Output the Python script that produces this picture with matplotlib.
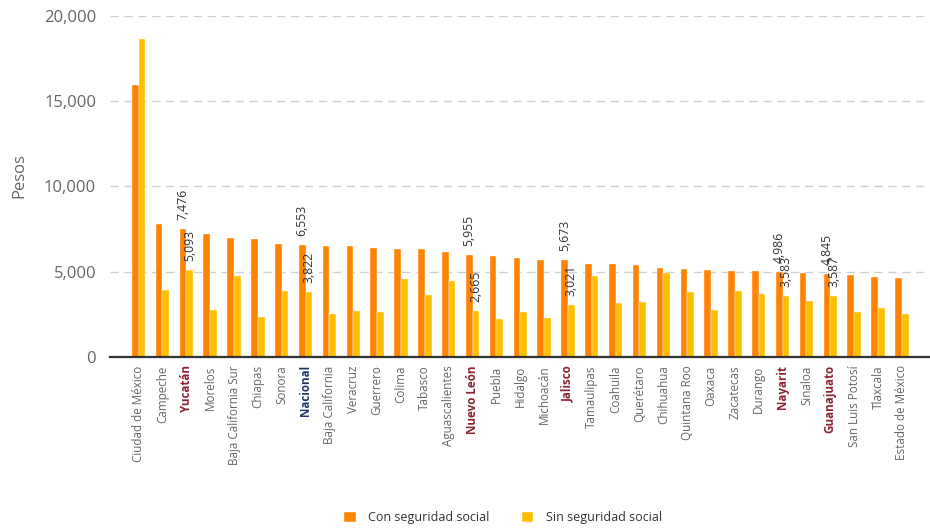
import matplotlib
matplotlib.use("Agg")
import matplotlib.pyplot as plt
import numpy as np

plt.rcParams['font.family'] = ['Open Sans', 'DejaVu Sans']

estados = ["Ciudad de México", "Campeche", "Yucatán", "Morelos", "Baja California Sur",
           "Chiapas", "Sonora", "Nacional", "Baja California", "Veracruz", "Guerrero",
           "Colima", "Tabasco", "Aguascalientes", "Nuevo León", "Puebla", "Hidalgo",
           "Michoacán", "Jalisco", "Tamaulipas", "Coahuila", "Querétaro", "Chihuahua",
           "Quintana Roo", "Oaxaca", "Zacatecas", "Durango", "Nayarit", "Sinaloa",
           "Guanajuato", "San Luis Potosí", "Tlaxcala", "Estado de México"]

con_seguridad = [15920, 7767, 7476, 7183, 6985, 6891, 6617, 6553, 6514, 6495, 6359,
                 6340, 6321, 6127, 5955, 5914, 5817, 5701, 5673, 5470, 5440, 5391,
                 5217, 5178, 5081, 5062, 5062, 4986, 4946, 4845, 4810, 4675, 4655]

sin_seguridad = [18630, 3930, 5093, 2762, 4748, 2371, 3872, 3822, 2505, 2718, 2660,
                 4539, 3648, 4461, 2665, 2234, 2641, 2292, 3021, 4771, 3164, 3242,
                 4907, 3803, 2776, 3861, 3687, 3583, 3261, 3587, 2660, 2873, 2505]

destacados_estatales = ["Yucatán", "Nuevo León", "Jalisco", "Nayarit", "Guanajuato"]
destacado_nacional = "Nacional"

C_CON = "#FF8200"
C_SIN = "#FFBE00"
GRIS = "#666666"
ROJO = "#8C2434"
AZUL = "#1E3A68"

fig = plt.figure(figsize=(9.30, 5.29), dpi=100)
ax = fig.add_axes([110/930, 1 - 357/529, 820/930, (357 - 15.5)/529])

x = np.arange(len(estados))
w = 0.28
b1 = ax.bar(x - w/2, con_seguridad, width=w, color=C_CON, label="Con seguridad social",
            edgecolor="white", linewidth=0.3, zorder=3)
b2 = ax.bar(x + w/2, sin_seguridad, width=w, color=C_SIN, label="Sin seguridad social",
            edgecolor="white", linewidth=0.3, zorder=3)

ax.set_xlim(-1.2, 33.18)
ax.set_ylim(0, 20000)
ax.set_yticks([0, 5000, 10000, 15000, 20000])
ax.set_yticklabels([f"{v:,}" for v in [0, 5000, 10000, 15000, 20000]])
ax.yaxis.grid(True, color="#d0d0d0", linestyle=(0, (6, 4)), linewidth=1, zorder=0)
ax.set_axisbelow(True)
for s in ["top", "right", "left"]:
    ax.spines[s].set_visible(False)
ax.spines["bottom"].set_color("#333333")
ax.spines["bottom"].set_linewidth(1.6)
ax.spines["bottom"].set_zorder(4)
ax.tick_params(axis="y", length=0, pad=10, labelsize=12, labelcolor=GRIS)
ax.tick_params(axis="x", length=0, pad=6)

ax.set_xticks(x)
ax.set_xticklabels(estados, rotation=90, fontsize=8.4)
for lbl, name in zip(ax.get_xticklabels(), estados):
    if name in destacados_estatales:
        lbl.set_color(ROJO)
        lbl.set_fontweight("bold")
    elif name == destacado_nacional:
        lbl.set_color(AZUL)
        lbl.set_fontweight("bold")
    else:
        lbl.set_color(GRIS)

ax.set_ylabel("Pesos", fontsize=12, color=GRIS)
ax.yaxis.set_label_coords(-0.101, 0.53)

# Etiquetas de valor para los estados destacados y el dato nacional
for i, name in enumerate(estados):
    if name in destacados_estatales or name == destacado_nacional:
        for xb, v in ((i - w/2, con_seguridad[i]), (i + w/2, sin_seguridad[i])):
            ax.annotate(f"{v:,}", (xb, v), xytext=(0, 6.5), textcoords="offset points",
                        rotation=90, ha="center", va="bottom", fontsize=8.8,
                        color="#333333", zorder=5)

fig.legend(handles=[b1, b2], loc="center", bbox_to_anchor=(503/930, 1 - 518/529),
           ncol=2, frameon=False, fontsize=9, handlelength=0.9, handleheight=0.9,
           columnspacing=2.6, handletextpad=1.0, labelcolor="#333333")

fig.savefig("out.png", dpi=100)
